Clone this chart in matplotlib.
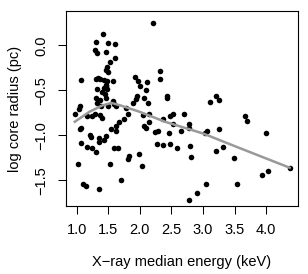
import matplotlib
matplotlib.use("Agg")
import matplotlib.pyplot as plt

plt.rcParams['font.family'] = ['Liberation Sans', 'DejaVu Sans']

# X-ray median energy (keV) and log core radius (pc)
energy = [
    1.42, 1.30, 1.50, 1.60, 1.29, 1.32, 1.46, 1.61, 1.53, 1.48, 1.46, 1.50,
    2.21,
    1.07, 1.30, 1.37, 1.43, 1.48, 1.57, 1.46, 1.43, 1.32, 1.48, 1.40, 1.45,
    1.31, 1.37, 1.47, 1.57, 1.32, 1.39, 1.50, 1.59, 1.63, 1.05, 1.03, 0.97,
    1.16, 1.25, 1.37, 1.40, 1.29, 1.67, 1.62, 1.07, 1.33, 1.46,
    1.93, 1.97, 2.00, 2.11, 2.10, 1.96, 1.94, 1.89, 2.06, 2.13,
    1.78, 1.82, 1.75, 1.63, 2.05, 2.15, 2.15, 2.07, 2.10, 2.24, 2.28,
    2.32, 2.32, 2.43, 2.43, 3.11, 3.20, 3.25, 3.67, 3.69, 4.00,
    2.36, 2.47, 2.53, 2.70, 2.53, 2.77, 2.77, 2.46, 2.65, 3.03, 3.07, 3.25,
    2.27, 2.37, 2.48, 2.59, 2.79, 2.81, 3.21, 3.32, 3.49, 3.04, 2.90, 2.77,
    3.54, 3.93, 4.02, 4.37,
    1.07, 1.17, 1.24, 1.30, 1.36, 1.44, 1.59, 1.22, 1.02, 1.53, 1.10, 1.15,
    1.35, 1.65, 1.81, 1.83, 1.99, 2.03, 1.70, 1.05, 1.21, 1.36, 1.46, 1.54,
]
core_radius = [
    0.12, 0.04, 0.02, 0.01, -0.05, -0.09, -0.08, -0.14, -0.19, -0.24, -0.27, -0.30,
    0.25,
    -0.39, -0.37, -0.38, -0.39, -0.40, -0.40, -0.44, -0.47, -0.49, -0.49, -0.52, -0.54,
    -0.59, -0.61, -0.59, -0.62, -0.64, -0.67, -0.67, -0.65, -0.67, -0.67, -0.71, -0.76,
    -0.79, -0.79, -0.77, -0.81, -0.76, -0.85, -0.95, -0.92, -0.36, -0.45,
    -0.35, -0.40, -0.45, -0.41, -0.50, -0.56, -0.60, -0.64, -0.59, -0.64,
    -0.70, -0.76, -0.82, -0.90, -0.78, -0.76, -0.85, -0.90, -0.92, -0.96, -0.95,
    -0.29, -0.38, -0.56, -0.59, -0.63, -0.56, -0.61, -0.79, -0.84, -0.98,
    -0.82, -0.79, -0.76, -0.76, -0.87, -0.87, -0.92, -0.97, -0.95, -0.98, -0.95, -0.93,
    -1.10, -1.11, -1.10, -1.14, -1.12, -1.24, -1.18, -1.13, -1.25, -1.54, -1.64, -1.72,
    -1.54, -1.44, -1.40, -1.36,
    -1.09, -1.13, -1.14, -1.19, -1.07, -1.05, -1.14, -1.02, -1.32, -1.32, -1.54, -1.56,
    -1.60, -1.14, -1.26, -1.23, -1.21, -1.34, -1.50, -0.93, -1.00, -1.03, -1.01, -0.93,
]

# smooth trend line (lowess)
trend_x = [0.97, 1.2, 1.4, 1.55, 1.7, 2.0, 2.4, 3.0, 3.5, 4.37]
trend_y = [-0.85, -0.74, -0.67, -0.64, -0.67, -0.74, -0.85, -0.98, -1.12, -1.36]

xticks = [1.0, 1.5, 2.0, 2.5, 3.0, 3.5, 4.0]
yticks = [0.0, -0.5, -1.0, -1.5]

fig = plt.figure(figsize=(3.08, 2.74), dpi=100)
ax = fig.add_axes([0.214, 0.248, 0.753, 0.712])

ax.plot(energy, core_radius, 'o', color='black', markersize=4.0, markeredgewidth=0)
ax.plot(trend_x, trend_y, color='#999999', linewidth=1.8)

ax.set_xlim(0.83, 4.50)
ax.set_ylim(-1.786, 0.381)

ax.set_xticks(xticks)
ax.set_xticklabels(['%.1f' % t for t in xticks])
ax.set_yticks(yticks)
ax.set_yticklabels([('%.1f' % t).replace('-', '\u2212') for t in yticks],
                   rotation=90, va='center')
ax.tick_params(direction='out', length=5.5, width=0.75, labelsize=10.5, pad=7)

for s in ax.spines.values():
    s.set_linewidth(0.8)

ax.set_xlabel('X\u2212ray median energy (keV)', fontsize=10.5, labelpad=13)
ax.set_ylabel('log core radius (pc)', fontsize=10.5, labelpad=9)

fig.savefig('out.png', dpi=100)
